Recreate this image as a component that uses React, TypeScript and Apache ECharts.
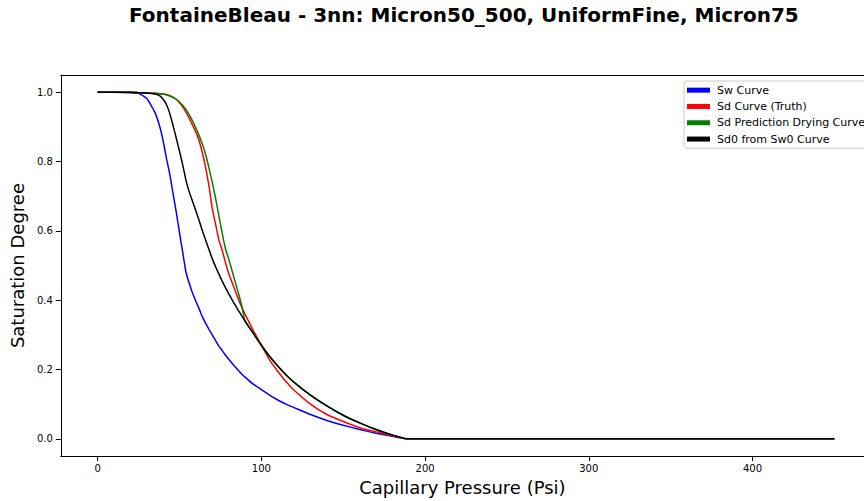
import React, { useEffect, useRef } from "react";
import * as echarts from "echarts";

const titleText = "FontaineBleau - 3nn: Micron50_500, UniformFine, Micron75";
const xAxisTitle = "Capillary Pressure (Psi)";
const yAxisTitle = "Saturation Degree";

const pressure = [
  0, 10, 20, 25, 30, 35, 38, 40, 42, 44, 46, 48, 50, 52, 54, 56, 58, 60, 62, 64, 66, 68, 70,
  72, 74, 76, 78, 80, 83, 86, 88, 90, 95, 100, 105, 110, 115, 120, 130, 140, 150, 160, 170, 180,
  189, 450,
];

const swCurve = [
  1, 1, 0.999, 0.997, 0.982, 0.942, 0.9, 0.86, 0.81, 0.765, 0.71, 0.655, 0.595, 0.537,
  0.48, 0.448, 0.42, 0.397, 0.375, 0.352, 0.333, 0.316, 0.3, 0.284, 0.268, 0.255, 0.242, 0.23,
  0.213, 0.197, 0.187, 0.178, 0.158, 0.142, 0.126, 0.112, 0.1, 0.09, 0.07, 0.053, 0.039, 0.027,
  0.016, 0.007, 0, 0,
];

const sdTruth = [
  1, 1, 1, 0.999, 0.998, 0.997, 0.996, 0.995, 0.993, 0.99, 0.985, 0.98, 0.97, 0.958, 0.942,
  0.925, 0.905, 0.885, 0.86, 0.825, 0.782, 0.73, 0.665, 0.62, 0.575, 0.545, 0.51, 0.478, 0.44,
  0.403, 0.38, 0.36, 0.313, 0.27, 0.228, 0.195, 0.165, 0.14, 0.1, 0.07, 0.05, 0.032, 0.02, 0.009,
  0, 0,
];

const sdPrediction = [
  1, 1, 1, 0.999, 0.998, 0.997, 0.996, 0.995, 0.993, 0.99, 0.986, 0.98, 0.972, 0.962, 0.95,
  0.935, 0.917, 0.897, 0.875, 0.85, 0.82, 0.782, 0.74, 0.695, 0.645, 0.595, 0.55, 0.52, 0.47,
  0.42, 0.385, 0.34, 0.305, 0.27, 0.238, 0.21, 0.185, 0.163, 0.126, 0.095, 0.068, 0.046, 0.027,
  0.011, 0, 0,
];

const sd0FromSw0 = [
  1, 1, 1, 0.999, 0.998, 0.995, 0.99, 0.98, 0.965, 0.94, 0.905, 0.868, 0.83, 0.79, 0.745,
  0.712, 0.685, 0.658, 0.63, 0.6, 0.573, 0.546, 0.52, 0.497, 0.476, 0.456, 0.437, 0.419, 0.394,
  0.37, 0.355, 0.34, 0.305, 0.27, 0.238, 0.21, 0.185, 0.163, 0.126, 0.095, 0.068, 0.046, 0.027,
  0.011, 0, 0,
];

const seriesNames = ["Sw Curve", "Sd Curve (Truth)", "Sd Prediction Drying Curve", "Sd0 from Sw0 Curve"];
const seriesColors = ["#0000ff", "#ff0000", "#008000", "#000000"];
const seriesValues = [swCurve, sdTruth, sdPrediction, sd0FromSw0];

const xTicks = [0, 100, 200, 300, 400];
const yTicks = [0, 0.2, 0.4, 0.6, 0.8, 1.0];

const FONT = "DejaVu Sans";

export default function App() {
  const ref = useRef<HTMLDivElement>(null);
  useEffect(() => {
    if (!ref.current) return;
    const chart = echarts.init(ref.current, undefined, { renderer: "svg" });
    chart.setOption({
      animation: false,
      backgroundColor: "#ffffff",
      color: seriesColors,
      title: {
        text: titleText,
        left: 129,
        top: 5,
        padding: 0,
        textStyle: { fontFamily: FONT, fontSize: 20, fontWeight: "bold", color: "#000" },
      },
      legend: {
        orient: "vertical",
        left: 684,
        top: 81,
        padding: [3, 20, 3, 3],
        itemGap: 4,
        itemWidth: 23,
        itemHeight: 5,
        icon: "rect",
        borderColor: "#cccccc",
        borderWidth: 1,
        borderRadius: 3,
        backgroundColor: "rgba(255,255,255,0.85)",
        textStyle: { fontFamily: FONT, fontSize: 11, color: "#000", lineHeight: 12.3, padding: [0, 0, 0, 2] },
        data: seriesNames,
      },
      grid: {
        left: 58.4,
        right: 0,
        top: 75,
        bottom: 43.5,
        show: false,
      },
      xAxis: [
        {
          type: "value",
          min: -22.5,
          max: 468.1,
          name: xAxisTitle,
          nameLocation: "middle",
          nameGap: 21,
          nameTextStyle: { fontFamily: FONT, fontSize: 18, color: "#000" },
          axisLine: { show: true, onZero: false, lineStyle: { color: "#000", width: 1 } },
          axisTick: { show: true, length: 5, lineStyle: { color: "#000" }, customValues: xTicks },
          axisLabel: { fontFamily: FONT, fontSize: 10, color: "#000", margin: 7, customValues: xTicks },
          splitLine: { show: false },
        },
        {
          type: "value",
          position: "top",
          min: -22.5,
          max: 468.1,
          axisLine: { show: true, onZero: false, lineStyle: { color: "#000", width: 1 } },
          axisTick: { show: false },
          axisLabel: { show: false },
          splitLine: { show: false },
        },
      ],
      yAxis: {
        type: "value",
        min: -0.05,
        max: 1.05,
        name: yAxisTitle,
        nameLocation: "middle",
        nameGap: 30,
        nameTextStyle: { fontFamily: FONT, fontSize: 18, color: "#000" },
        axisLine: { show: true, onZero: false, lineStyle: { color: "#000", width: 1 } },
        axisTick: { show: true, length: 5, lineStyle: { color: "#000" }, customValues: yTicks },
        axisLabel: {
          fontFamily: FONT,
          fontSize: 10,
          color: "#000",
          margin: 8,
          customValues: yTicks,
          formatter: (v: number) => v.toFixed(1),
        },
        splitLine: { show: false },
      },
      series: seriesNames.map((name, i) => ({
        name,
        type: "line",
        xAxisIndex: 0,
        symbol: "none",
        smooth: 0.15,
        data: pressure.map((p, j) => [p, seriesValues[i][j]]),
        lineStyle: { color: seriesColors[i], width: 1.5 },
        itemStyle: { color: seriesColors[i] },
        z: 2 + i,
      })),
    });
    return () => chart.dispose();
  }, []);
  return (
    <div
      ref={ref}
      style={{ position: "absolute", left: 0, top: 0, width: 864, height: 501 }}
    />
  );
}
